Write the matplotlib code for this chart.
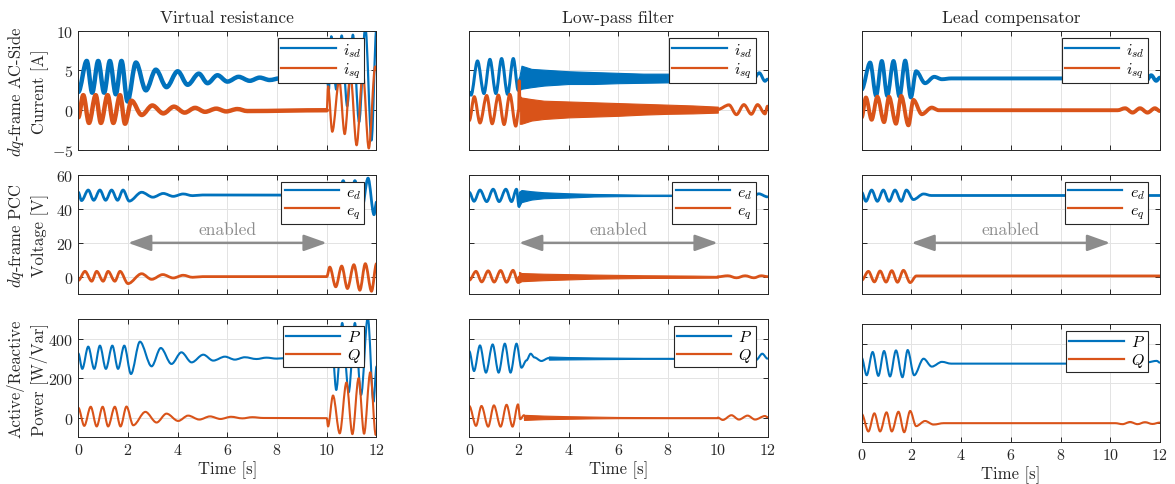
import numpy as np
import matplotlib
matplotlib.use("Agg")
import matplotlib.pyplot as plt
from matplotlib.path import Path
from matplotlib.patches import PathPatch

plt.rcParams['font.family'] = 'serif'
plt.rcParams['font.serif'] = ['cmr10']
plt.rcParams['mathtext.fontset'] = 'cm'
plt.rcParams['axes.formatter.use_mathtext'] = True

blue = '#0072BD'
orange = '#D95319'
dark = '#262626'
gray = '#8c8c8c'

titles = ['Virtual resistance', 'Low-pass filter', 'Lead compensator']
ylabels = ['$dq$-frame AC-Side\nCurrent [A]',
           '$dq$-frame PCC\nVoltage [V]',
           'Active/Reactive\nPower [W/Var]']
legend_names = [['$i_{sd}$', '$i_{sq}$'], ['$e_d$', '$e_q$'], ['$P$', '$Q$']]
ylims = [(-5, 10), (-10, 60), (-100, 500)]
yticks = [[-5, 0, 5, 10], [0, 20, 40, 60], [0, 200, 400]]
xticks = [0, 2, 4, 6, 8, 10, 12]
enabled_span = [2, 10]

# ---- virtual resistance (column 1), values at the turning points ----
vr_isd_t = [0, 0.34, 0.56, 0.80, 1.04, 1.27, 1.51, 1.74, 1.98, 2.32, 2.72, 3.12, 3.55, 4.0, 4.4,
            4.85, 5.2, 5.6, 6.0, 6.45, 6.9, 7.3, 7.7, 8.1, 8.5, 10.0, 10.08, 10.18, 10.38, 10.6,
            10.82, 11.05, 11.3, 11.55, 11.8, 12.0]
vr_isd = [2.3, 6.2, 2.2, 6.2, 2.2, 6.2, 2.0, 6.2, 1.1, 6.0, 2.5, 5.1, 2.9, 4.9, 3.2,
          4.6, 3.4, 4.4, 3.6, 4.2, 3.7, 4.1, 3.8, 4.0, 3.85, 3.9, 2.5, 9.3, 2.6, 9.4,
          0.5, 9.5, -1.5, 10.5, -3.8, 10.5]
vr_isq_t = [0, 0.2, 0.43, 0.7, 0.91, 1.18, 1.41, 1.68, 1.88, 2.14, 2.55, 2.98, 3.42, 3.85, 4.28,
            4.7, 5.1, 5.55, 5.95, 6.4, 6.8, 10.0, 10.05, 10.22, 10.5, 10.72, 10.95, 11.2, 11.45,
            11.69, 11.95, 12.0]
vr_isq = [-0.9, 1.9, -1.6, 1.9, -1.6, 1.9, -1.6, 1.9, -1.7, 1.2, -0.6, 0.6, -0.4, 0.45, -0.3,
          0.3, -0.2, 0.2, -0.15, 0.15, -0.1, 0.0, 3.0, -2.7, 3.8, -3.0, 4.5, -4.4, 4.8,
          -4.8, 5.5, 5.0]
vr_ed_t = [0, 0.13, 0.4, 0.62, 0.87, 1.1, 1.34, 1.58, 1.8, 2.05, 2.55, 3.0, 3.42, 3.82, 4.22,
           4.6, 5.0, 10.0, 10.2, 10.42, 10.66, 10.9, 11.13, 11.4, 11.66, 11.9, 12.0]
vr_ed = [49.7, 44.8, 51, 45, 51, 45, 51, 45, 51, 44.5, 49.7, 46.8, 49, 47.3, 48.7,
         47.7, 48.1, 48, 54, 42, 56.5, 40, 56.5, 39, 58, 36.5, 44]
vr_eq_t = [0, 0.27, 0.54, 0.74, 1.0, 1.2, 1.47, 1.68, 2.0, 2.55, 2.95, 3.4, 3.82, 4.22, 4.6,
           5.0, 10.0, 10.12, 10.36, 10.6, 10.83, 11.09, 11.33, 11.55, 11.8, 12.0]
vr_eq = [-2, 3.3, -2.5, 3.3, -2.5, 3.3, -2.5, 3.3, -3.9, 1.9, -1.4, 1.4, -0.6, 1.0, -0.2,
         0.2, 0.2, 5.8, -5.8, 6.4, -6.8, 7.2, -7.8, 7.8, -8.4, 7.8]
vr_p_t = [0, 0.16, 0.4, 0.64, 0.87, 1.11, 1.37, 1.6, 1.85, 2.12, 2.48, 2.95, 3.32, 3.75, 4.15,
          4.56, 5.03, 5.43, 5.9, 6.3, 6.7, 7.17, 7.57, 7.98, 8.4, 10.0, 10.17, 10.38, 10.62,
          10.88, 11.13, 11.38, 11.65, 11.88, 12.0]
vr_p = [326, 247, 360, 247, 365, 247, 365, 247, 365, 221, 385, 260, 353, 272, 331,
        280, 319, 289, 309, 294, 306, 297, 304, 299, 302, 300, 460, 140, 480,
        128, 480, 115, 510, 80, 260]
vr_q_t = [0, 0.24, 0.5, 0.74, 0.98, 1.2, 1.47, 1.7, 1.94, 2.21, 2.7, 3.15, 3.55, 4.02, 4.42,
          4.87, 5.3, 5.72, 6.15, 6.6, 7.0, 7.45, 10.0, 10.05, 10.25, 10.52, 10.79, 11.03,
          11.28, 11.5, 11.75, 11.97, 12.0]
vr_q = [50, -42, 55, -45, 55, -45, 55, -45, 56, -39, 29, -25, 20, -17, 10,
        -10, 6, -7, 4, -4, 2, -2, -3, -45, 112, -80, 178, -84,
        200, -82, 230, -88, -80]

# ---- low-pass filter (column 2): turning points before 2 s and after 10 s,
#      envelope of the fast ripple in between ----
lp_isd_t = [0, 0.07, 0.33, 0.59, 0.83, 1.07, 1.3, 1.54, 1.77, 1.97, 2.05]
lp_isd = [2.3, 1.9, 6.2, 2.1, 6.4, 2.1, 6.5, 2.0, 6.5, 2.5, 4.0]
lp_isd_band_t = [2.0, 2.1, 2.5, 3.0, 4.0, 5.0, 6.0, 7.0, 8.0, 9.0, 10.0]
lp_isd_lo = [2.5, 2.7, 2.9, 3.1, 3.3, 3.3, 3.4, 3.45, 3.5, 3.5, 3.5]
lp_isd_hi = [4.0, 5.6, 5.2, 5.1, 4.9, 4.8, 4.7, 4.6, 4.6, 4.5, 4.5]
lp_isd_end_t = [10.0, 10.47, 10.8, 11.1, 11.37, 11.67, 11.9, 12.0]
lp_isd_end = [4.0, 4.6, 3.5, 4.6, 3.5, 4.7, 3.65, 3.9]

lp_isq_t = [0, 0.2, 0.43, 0.7, 0.92, 1.17, 1.4, 1.63, 1.87, 1.99, 2.01, 2.04]
lp_isq = [-1.3, 1.7, -1.6, 1.85, -1.7, 1.9, -1.8, 2.0, -2.0, 0.0, 3.7, 0.0]
lp_isq_band_t = [2.03, 2.1, 2.5, 3.0, 4.0, 5.0, 6.0, 7.0, 8.0, 9.0, 10.0]
lp_isq_lo = [-1.7, -1.7, -1.3, -1.1, -0.9, -0.8, -0.7, -0.55, -0.45, -0.4, -0.3]
lp_isq_hi = [1.8, 1.6, 1.4, 1.2, 1.1, 1.0, 0.9, 0.8, 0.7, 0.6, 0.45]
lp_isq_end_t = [10.0, 10.45, 10.75, 11.05, 11.35, 11.6, 11.9, 12.0]
lp_isq_end = [0.1, 0.67, -0.55, 0.7, -0.5, 0.7, -0.45, 0.5]

lp_ed_t = [0, 0.19, 0.43, 0.7, 0.96, 1.2, 1.47, 1.7, 1.9, 2.0]
lp_ed = [49.7, 44.4, 51, 44.2, 51.5, 44.2, 51.5, 44.2, 51.5, 41.3]
lp_ed_band_t = [2.0, 2.1, 2.5, 3.0, 4.0, 5.0, 6.0, 7.0, 8.0, 9.0, 10.0]
lp_ed_lo = [41.3, 43.9, 45.4, 46.2, 46.6, 47.2, 47.4, 47.5, 47.5, 47.6, 47.6]
lp_ed_hi = [50.0, 51.0, 50.3, 49.7, 49.1, 48.7, 48.5, 48.3, 48.3, 48.2, 48.2]
lp_ed_end_t = [10.0, 10.5, 10.8, 11.1, 11.4, 11.65, 12.0]
lp_ed_end = [47.9, 48.8, 47.2, 48.8, 47.2, 48.8, 47.0]

lp_eq_t = [0, 0.27, 0.5, 0.76, 1.0, 1.26, 1.5, 1.76, 1.97, 2.0]
lp_eq = [-1.9, 3.3, -2.9, 3.6, -3.0, 3.8, -3.1, 3.9, -3.3, 0.0]
lp_eq_band_t = [2.0, 2.1, 3.0, 5.0, 7.0, 9.0, 10.0]
lp_eq_lo = [-3.3, -2.5, -1.9, -1.0, -0.6, -0.5, -0.4]
lp_eq_hi = [3.0, 2.3, 1.9, 1.4, 1.0, 0.8, 0.6]
lp_eq_end_t = [10.0, 10.4, 10.75, 11.1, 11.45, 11.75, 12.0]
lp_eq_end = [0.1, 0.7, -0.5, 0.7, -0.5, 0.7, 0.2]

lp_p_t = [0, 0.19, 0.43, 0.67, 0.94, 1.18, 1.43, 1.66, 1.9, 2.1, 2.3, 2.47, 2.62, 2.9, 3.2]
lp_p = [337, 236, 366, 228, 371, 228, 375, 228, 375, 253, 290, 324, 305, 287, 302]
lp_p_band_t = [3.2, 4.0, 5.0, 6.0, 7.0, 8.0, 9.0, 10.0]
lp_p_lo = [294, 295, 296, 297, 298, 298, 298, 299]
lp_p_hi = [310, 307, 305, 304, 303, 303, 302, 302]
lp_p_end_t = [10.0, 10.5, 10.9, 11.3, 11.55, 11.79, 12.0]
lp_p_end = [300, 306, 295, 306, 293, 324, 299]

lp_q_t = [0, 0.27, 0.49, 0.76, 0.99, 1.26, 1.5, 1.74, 1.96, 2.05, 2.2]
lp_q = [59, -42, 59, -46, 62, -46, 65, -46, 67, -8, 12]
lp_q_band_t = [2.2, 3.0, 4.0, 5.0, 6.0, 8.0, 10.0]
lp_q_lo = [-12, -8, -6, -4, -3, -3, -3]
lp_q_hi = [14, 10, 7, 5, 3, 2, 2]
lp_q_end_t = [10.0, 10.2, 10.55, 10.85, 11.2, 11.5, 11.9, 12.0]
lp_q_end = [0, -12, 12, -10, 10, -10, 8, 2]

# ---- lead compensator (column 3) ----
lc_isd_t = [0, 0.34, 0.58, 0.81, 1.03, 1.28, 1.52, 1.75, 1.98, 2.19, 2.55, 2.92, 3.23, 3.6,
            10.3, 10.6, 10.9, 11.2, 11.45, 11.65, 11.85, 12.0]
lc_isd = [2.6, 6.0, 1.8, 6.2, 1.8, 6.2, 1.7, 6.25, 1.6, 4.9, 3.4, 4.2, 3.9, 4.0,
          4.0, 4.3, 3.7, 4.3, 3.7, 4.4, 3.7, 4.1]
lc_isq_t = [0, 0.17, 0.4, 0.63, 0.9, 1.1, 1.38, 1.59, 1.88, 2.08, 2.42, 2.82, 3.1,
            10.3, 10.6, 10.9, 11.2, 11.5, 11.8, 12.0]
lc_isq = [-0.9, 1.6, -1.2, 1.7, -1.5, 1.7, -1.7, 1.8, -1.9, 1.3, -0.5, 0.33, 0.0,
          0.0, 0.25, -0.3, 0.25, -0.3, 0.25, -0.1]
lc_ed_t = [0, 0.17, 0.4, 0.63, 0.87, 1.1, 1.34, 1.59, 1.8, 2.08, 2.49, 2.8, 12.0]
lc_ed = [49.7, 44.4, 51, 44.4, 51, 44.4, 51, 44.4, 51, 45.4, 48.7, 47.8, 47.8]
lc_eq_t = [0, 0.27, 0.51, 0.74, 0.98, 1.21, 1.44, 1.68, 1.95, 2.2, 12.0]
lc_eq = [-1.9, 3.3, -2.9, 3.5, -3.0, 3.7, -3.1, 3.9, -3.3, 0.6, 0.6]
lc_p_t = [0, 0.2, 0.44, 0.67, 0.9, 1.14, 1.38, 1.64, 1.85, 2.11, 2.49, 2.82, 3.23, 3.6,
          10.3, 10.7, 11.1, 11.5, 11.87, 12.0]
lc_p = [329, 240, 358, 237, 363, 234, 366, 230, 368, 240, 324, 284, 308, 299,
        299, 306, 294, 306, 313, 304]
lc_q_t = [0, 0.27, 0.51, 0.74, 1.0, 1.21, 1.48, 1.71, 1.95, 2.19, 2.55, 2.89, 3.3,
          10.2, 10.5, 10.8, 11.1, 11.4, 11.7, 12.0]
lc_q = [44, -45, 47, -45, 52, -45, 55, -49, 59, -18, 8, -10, -3,
        -3, -8, 3, -8, 2, -7, 0]

W, H = 1175, 485
fig = plt.figure(figsize=(W / 100, H / 100), dpi=100)

col_left = [78.3, 469.3, 861.7]
col_width = 298.2
row_box = [[(31.7, 151.0)] * 3,
           [(175.7, 295.0)] * 3,
           [(320.0, 438.3), (320.0, 438.3), (325.0, 443.3)]]

axes = [[None] * 3 for _ in range(3)]
for r in range(3):
    for c in range(3):
        top, bot = row_box[r][c]
        ax = fig.add_axes([col_left[c] / W, 1 - bot / H, col_width / W, (bot - top) / H])
        axes[r][c] = ax
        ax.set_xlim(0, 12)
        ax.set_ylim(*ylims[r])
        ax.set_xticks(xticks)
        ax.set_yticks(yticks[r])
        ax.grid(True, color='#e3e3e3', lw=0.7)
        ax.set_axisbelow(True)
        ax.tick_params(direction='in', top=True, right=True, length=3.5, width=0.7,
                       colors=dark, labelsize=11.5)
        for s in ax.spines.values():
            s.set_color(dark)
            s.set_linewidth(0.7)
        if c > 0:
            ax.tick_params(labelleft=False)
        else:
            ax.set_ylabel(ylabels[r], fontsize=12, color=dark, linespacing=1.35, va='center')
            ax.yaxis.set_label_coords(-0.17, 0.5)
        if r < 2:
            ax.tick_params(labelbottom=False)
        else:
            ax.set_xlabel('Time [s]', fontsize=12, color=dark, labelpad=2)
        if r == 0:
            ax.set_title(titles[c], fontsize=12.5, color=dark, pad=6)


def curve(ax, t, v, color, lw):
    # smooth stroke through the turning points (flat tangent at each of them)
    verts = [(t[0], v[0])]
    codes = [Path.MOVETO]
    for i in range(1, len(t)):
        dt = t[i] - t[i - 1]
        verts += [(t[i - 1] + dt / 3, v[i - 1]), (t[i] - dt / 3, v[i]), (t[i], v[i])]
        codes += [Path.CURVE4] * 3
    ax.add_patch(PathPatch(Path(verts, codes), fill=False, edgecolor=color, lw=lw,
                           joinstyle='round', capstyle='round', zorder=2))


def trace(ax, t, v, color, lw, label=None, split=None, lw_after=None):
    t = np.asarray(t, dtype=float)
    v = np.asarray(v, dtype=float)
    if split is None:
        curve(ax, t, v, color, lw)
    else:
        m1 = t <= split
        m2 = t >= split
        curve(ax, t[m1], v[m1], color, lw)
        curve(ax, t[m2], v[m2], color, lw_after)
    if label is not None:
        ax.plot([], [], color=color, lw=1.6, label=label)


def band(ax, t, lo, hi, color):
    ax.fill_between(t, lo, hi, color=color, lw=0.8, edgecolor=color, zorder=2)


# column 1
ax = axes[0][0]
trace(ax, vr_isd_t, vr_isd, blue, 3.2, legend_names[0][0], split=10, lw_after=1.6)
trace(ax, vr_isq_t, vr_isq, orange, 3.2, legend_names[0][1], split=10, lw_after=1.6)
ax = axes[1][0]
trace(ax, vr_ed_t, vr_ed, blue, 2.0, legend_names[1][0])
trace(ax, vr_eq_t, vr_eq, orange, 2.0, legend_names[1][1])
ax = axes[2][0]
trace(ax, vr_p_t, vr_p, blue, 1.5, legend_names[2][0])
trace(ax, vr_q_t, vr_q, orange, 1.5, legend_names[2][1])

# column 2
ax = axes[0][1]
trace(ax, lp_isd_t, lp_isd, blue, 2.2, legend_names[0][0])
band(ax, lp_isd_band_t, lp_isd_lo, lp_isd_hi, blue)
trace(ax, lp_isd_end_t, lp_isd_end, blue, 2.2)
trace(ax, lp_isq_t, lp_isq, orange, 2.2, legend_names[0][1])
band(ax, lp_isq_band_t, lp_isq_lo, lp_isq_hi, orange)
trace(ax, lp_isq_end_t, lp_isq_end, orange, 2.2)
ax = axes[1][1]
trace(ax, lp_ed_t, lp_ed, blue, 2.0, legend_names[1][0])
band(ax, lp_ed_band_t, lp_ed_lo, lp_ed_hi, blue)
trace(ax, lp_ed_end_t, lp_ed_end, blue, 2.0)
trace(ax, lp_eq_t, lp_eq, orange, 2.0, legend_names[1][1])
band(ax, lp_eq_band_t, lp_eq_lo, lp_eq_hi, orange)
trace(ax, lp_eq_end_t, lp_eq_end, orange, 2.0)
ax = axes[2][1]
trace(ax, lp_p_t, lp_p, blue, 1.5, legend_names[2][0])
band(ax, lp_p_band_t, lp_p_lo, lp_p_hi, blue)
trace(ax, lp_p_end_t, lp_p_end, blue, 1.5)
trace(ax, lp_q_t, lp_q, orange, 1.5, legend_names[2][1])
band(ax, lp_q_band_t, lp_q_lo, lp_q_hi, orange)
trace(ax, lp_q_end_t, lp_q_end, orange, 1.5)

# column 3
ax = axes[0][2]
trace(ax, lc_isd_t, lc_isd, blue, 2.8, legend_names[0][0])
trace(ax, lc_isq_t, lc_isq, orange, 2.8, legend_names[0][1])
ax = axes[1][2]
trace(ax, lc_ed_t, lc_ed, blue, 2.0, legend_names[1][0])
trace(ax, lc_eq_t, lc_eq, orange, 2.0, legend_names[1][1])
ax = axes[2][2]
trace(ax, lc_p_t, lc_p, blue, 1.5, legend_names[2][0])
trace(ax, lc_q_t, lc_q, orange, 1.5, legend_names[2][1])

# "enabled" arrows on the voltage row
for c in range(3):
    ax = axes[1][c]
    ax.annotate('', xy=(enabled_span[1], 20), xytext=(enabled_span[0], 20),
                arrowprops=dict(arrowstyle='<|-|>,head_length=0.7,head_width=0.25',
                                mutation_scale=20, color=gray, lw=1.8,
                                shrinkA=0, shrinkB=0))
    ax.text(sum(enabled_span) / 2, 28, 'enabled', color=gray, fontsize=12.5,
            ha='center', va='center')

for r in range(3):
    for c in range(3):
        ax = axes[r][c]
        hgt = row_box[r][c][1] - row_box[r][c][0]
        leg = ax.legend(loc='upper right', bbox_to_anchor=(1 - 12 / col_width, 1 - 7 / hgt),
                        borderaxespad=0, fancybox=False, framealpha=1, edgecolor=dark,
                        fontsize=11.5, handlelength=3.4, handletextpad=0.45,
                        borderpad=0.2, labelspacing=0.12)
        leg.get_frame().set_linewidth(0.8)
        leg.set_zorder(10)

fig.savefig('out.png', dpi=100)
